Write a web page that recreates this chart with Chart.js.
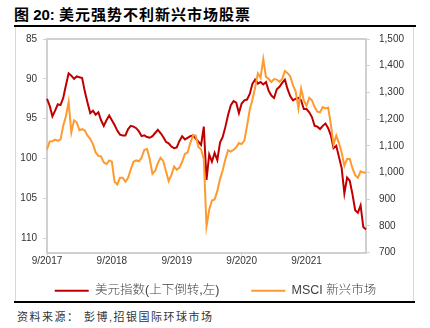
<!DOCTYPE html>
<html>
<head>
<meta charset="utf-8">
<script src="https://cdn.jsdelivr.net/npm/chart.js@4"></script>
<style>
body { margin: 0; width: 430px; height: 328px; background: #fff; position: relative; overflow: hidden;
       font-family: "Liberation Sans", "Noto Sans CJK SC", sans-serif; }
#title { position: absolute; left: 14px; top: 3px; font-size: 15px; font-weight: bold; color: #000; white-space: nowrap; }
#title .cn { letter-spacing: 1px; }
#rule1 { position: absolute; left: 14px; top: 25px; width: 402px; height: 2px; background: #000; }
#frame { position: absolute; left: 15px; top: 27px; width: 397px; height: 275px;
         border-left: 1px solid #d9d9d9; border-right: 1px solid #d9d9d9; }
#rule2 { position: absolute; left: 14px; top: 301px; width: 401px; height: 2px; background: #000; }
#source { position: absolute; left: 17px; top: 308px; font-size: 11px; color: #333; letter-spacing: 1.5px; white-space: nowrap; }
#wrap { position: absolute; left: 0; top: 0; width: 430px; height: 328px; }
</style>
</head>
<body>
<div id="title">图 20: <span class="cn">美元强势不利新兴市场股票</span></div>
<div id="rule1"></div>
<div id="frame"></div>
<div id="rule2"></div>
<div id="source">资料来源： 彭博,招银国际环球市场</div>
<div id="wrap"><canvas id="graph-canvas"></canvas></div>
<script>
// semi-monthly readings, Sep 2017 .. Aug 2022
const dxy = [
    92.5, 93.4, 94.7, 94.0, 93.2, 93.3, 92.4, 90.8, 89.3, 89.6,
    90.0, 89.7, 89.8, 89.9, 91.6, 93.0, 94.3, 94.0, 94.5, 94.2,
    95.2, 95.9, 95.2, 94.6, 95.2, 95.8, 96.5, 97.0, 97.1, 97.1,
    96.3, 95.9, 96.0, 96.2, 96.6, 97.2, 97.1, 97.3, 97.4, 97.2,
    96.8, 96.4, 96.8, 97.3, 97.9, 98.1, 98.5, 98.7, 98.6, 97.8,
    97.2, 97.6, 97.4, 97.2, 97.1, 97.5, 97.9, 98.3, 96.0, 102.7,
    99.5, 100.4, 99.3, 100.2, 98.0, 97.3, 96.0, 94.5, 93.3, 92.8,
    93.0, 94.3, 93.1, 92.7, 92.6, 91.9, 90.6, 90.1, 90.6, 90.4,
    90.7, 90.4, 91.5, 92.1, 92.4, 91.3, 91.0, 90.5, 90.1, 91.3,
    92.2, 92.7, 92.5, 92.4, 92.7, 93.8, 93.8, 94.2, 94.8, 95.9,
    96.0, 96.3, 95.9, 95.6, 96.2, 97.1, 98.7, 98.4, 99.8, 101.2,
    104.4, 102.4, 102.8, 104.5, 106.5, 106.8, 105.9, 108.6, 108.9
];
const msci = [
    1086, 1116, 1117, 1123, 1118, 1124, 1175, 1210, 1265, 1150,
    1195, 1188, 1158, 1162, 1157, 1138, 1126, 1106, 1075, 1062,
    1060, 1038, 1031, 1045, 1040, 965, 955, 980, 980, 965,
    980, 1012, 1040, 1045, 1042, 1056, 1085, 1088, 1050, 995,
    1006, 1035, 1055, 1043, 1005, 968, 990, 1022, 1010, 1018,
    1040, 1069, 1075, 1110, 1138, 1138, 1095, 1086, 1050, 798,
    860, 895, 899, 930, 975, 1008, 1050, 1083, 1078, 1085,
    1094, 1110, 1106, 1119, 1175, 1235, 1273, 1318, 1371, 1355,
    1425, 1358, 1350, 1339, 1350, 1348, 1339, 1350, 1380, 1372,
    1360, 1326, 1303, 1240, 1314, 1270, 1250, 1280, 1270, 1245,
    1228, 1225, 1245, 1240, 1243, 1180, 1105, 1138, 1110, 1075,
    1025, 1050, 1050, 1015, 990, 980, 1004, 1000, 1000
];
const seriesNames = ['美元指数(上下倒转,左)', 'MSCI 新兴市场'];
const seriesColors = ['#C00000', '#FF9A2E'];

const dates = [];
for (var i = 0; i < dxy.length; i++)
    {
        const k = 8 + Math.floor(i / 2);
        const mm = String(k % 12 + 1).padStart(2, '0');
        dates.push((2017 + Math.floor(k / 12)) + '-' + mm + (i % 2 ? '-15' : '-01'));
    };

Chart.defaults.font.family = '"Liberation Sans", "Noto Sans CJK SC", sans-serif';
Chart.defaults.color = '#333';

const axisGray = '#d0d0d0';
const ctx = document.getElementById('graph-canvas');

var chart = new Chart(ctx,
    {
    type: 'line',
    data:
    {
        labels: dates,
        datasets:
        [{
            label: seriesNames[0],
            data: dxy,
            yAxisID: 'y',
            borderColor: seriesColors[0],
            backgroundColor: seriesColors[0],
            borderWidth: 2,
            pointRadius: 0,
            tension: 0,
            order: 1
        },
        {
            label: seriesNames[1],
            data: msci,
            yAxisID: 'y1',
            borderColor: seriesColors[1],
            backgroundColor: seriesColors[1],
            borderWidth: 2,
            pointRadius: 0,
            tension: 0,
            order: 0
        }]
    },
    options:
    {
        responsive: true,
        maintainAspectRatio: false,
        animation: false,
        devicePixelRatio: 1,
        locale: 'en-US',
        layout: { padding: { left: 17, right: 16, top: 39, bottom: 21 } },
        scales:
        {
            x:
            {
                type: 'category',
                offset: false,
                // keep the legend close under the axis; mirrored labels are not clipped
                afterFit: (s) => { s.height = 0; },
                grid: { drawOnChartArea: false, drawTicks: true, tickLength: 3, color: axisGray },
                border: { color: axisGray, width: 2 },
                ticks:
                {
                    autoSkip: false,
                    maxRotation: 0,
                    mirror: true,
                    padding: -15,
                    font: { size: 10 },
                    callback: function(v) {
                        const l = this.getLabelForValue(v);
                        return l.endsWith('-09-01') ? '9/' + l.slice(0, 4) : null;
                    }
                }
            },
            xTop:
            {
                type: 'linear',
                position: 'top',
                min: 0,
                max: 1,
                afterFit: (s) => { s.height = 0; },
                grid: { display: false },
                ticks: { display: false },
                border: { color: axisGray, width: 2 }
            },
            y:
            {
                position: 'left',
                reverse: true,
                min: 85,
                max: 111.8,
                afterFit: (s) => { s.width = 30; },
                grid: { drawOnChartArea: false, tickLength: 4, color: axisGray },
                border: { color: axisGray, width: 2 },
                ticks: { stepSize: 5, includeBounds: false, padding: 6, font: { size: 10 } }
            },
            y1:
            {
                position: 'right',
                min: 700,
                max: 1500,
                afterFit: (s) => { s.width = 48; },
                grid: { drawOnChartArea: false, tickLength: 4, color: axisGray },
                border: { color: axisGray, width: 2 },
                ticks: { stepSize: 100, padding: 9, font: { size: 10 } }
            }
        },
        plugins:
        {
            tooltip: { enabled: false },
            legend:
            {
                position: 'bottom',
                labels:
                {
                    usePointStyle: true,
                    pointStyle: 'line',
                    pointStyleWidth: 34,
                    padding: 32,
                    color: '#404040',
                    font: { size: 12.5, weight: 300 },
                    sort: (a, b) => a.datasetIndex - b.datasetIndex
                }
            }
        }
    }
});
</script>
</body>
</html>
